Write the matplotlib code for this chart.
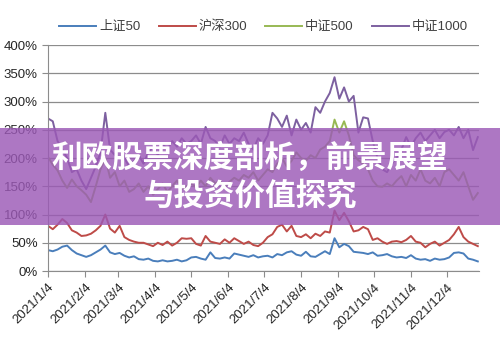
import numpy as np
import pandas as pd
import matplotlib
matplotlib.use("Agg")
import matplotlib.pyplot as plt
import matplotlib.dates as mdates
from matplotlib.patches import Rectangle
from matplotlib.ticker import MultipleLocator, FuncFormatter

plt.rcParams['font.family'] = ['Liberation Sans', 'Noto Sans CJK SC', 'DejaVu Sans']

# sampled every 4 days from 2021/1/4
dates = pd.date_range("2021-01-04", periods=91, freq="4D")

sz50 = [37, 35, 38, 43, 45, 37, 31, 28, 25, 28,
        33, 38, 45, 33, 30, 32, 27, 24, 26, 21,
        20, 22, 18, 17, 19, 17, 18, 20, 17, 19,
        24, 25, 22, 20, 33, 23, 22, 24, 22, 31,
        29, 27, 25, 28, 24, 26, 27, 24, 30, 28,
        33, 35, 29, 27, 34, 26, 25, 30, 35, 30,
        58, 42, 48, 44, 34, 33, 32, 30, 33, 27,
        28, 30, 26, 24, 25, 23, 28, 22, 20, 21,
        18, 22, 20, 21, 24, 32, 33, 31, 22, 20, 17]

hs300 = [80, 74, 82, 92, 85, 72, 68, 62, 63, 66,
         72, 80, 100, 75, 68, 80, 60, 55, 52, 50,
         50, 47, 44, 50, 46, 52, 45, 50, 58, 57,
         58, 48, 45, 62, 52, 50, 48, 56, 50, 58,
         53, 48, 52, 46, 44, 50, 60, 65, 78, 82,
         70, 80, 62, 60, 65, 58, 66, 62, 70, 68,
         107, 90, 103, 88, 70, 72, 78, 74, 55, 58,
         52, 48, 52, 53, 51, 55, 62, 52, 50, 42,
         48, 52, 45, 50, 55, 65, 78, 60, 52, 48, 44]

zz500 = [202, 188, 178, 160, 147, 162, 150, 143, 135, 122,
         150, 180, 200, 165, 175, 150, 160, 140, 145, 155,
         140, 150, 135, 145, 155, 140, 150, 160, 145, 150,
         155, 148, 160, 150, 165, 155, 160, 150, 158, 165,
         160, 170, 165, 175, 160, 170, 180, 175, 190, 200,
         185, 195, 210, 200, 195, 205, 200, 215, 220, 230,
         268, 245, 265, 240, 205, 196, 190, 180, 160, 150,
         149, 155, 150, 160, 168, 150, 170, 160, 180, 160,
         155, 165, 150, 175, 180, 170, 160, 175, 150, 126, 138]

zz1000 = [270, 265, 230, 215, 200, 175, 180, 160, 145, 165,
          185, 210, 280, 215, 205, 225, 200, 185, 195, 205,
          190, 210, 220, 205, 225, 215, 230, 220, 235, 225,
          230, 240, 225, 255, 235, 230, 220, 240, 225, 235,
          230, 245, 225, 215, 235, 225, 240, 280, 270, 255,
          275, 240, 268, 250, 262, 245, 290, 280, 300, 315,
          343, 305, 325, 300, 310, 245, 272, 270, 230, 200,
          180, 175, 190, 200, 215, 237, 220, 235, 245, 230,
          240, 250, 235, 246, 250, 240, 255, 235, 250, 214, 237]

names = ["上证50", "沪深300", "中证500", "中证1000"]
colors = ["#4A7EBB", "#BE4B48", "#98B954", "#7D60A0"]
series = [sz50, hs300, zz500, zz1000]

fig = plt.figure(figsize=(5, 3.55), dpi=100)
ax = fig.add_axes([0.096, 0.2366, 0.862, 0.6366])

for vals, name, c in zip(series, names, colors):
    ax.plot(dates, vals, color=c, lw=1.4, label=name)

ax.set_ylim(0, 400)
ax.yaxis.set_major_locator(MultipleLocator(50))
ax.yaxis.set_major_formatter(FuncFormatter(lambda v, p: f"{v:.0f}%"))
ax.grid(axis='y', color='#8c8c8c', lw=0.9)
ax.set_axisbelow(True)

ax.set_xlim(pd.Timestamp("2021-01-04"), pd.Timestamp("2021-12-31"))
ax.xaxis.set_major_locator(mdates.MonthLocator(bymonthday=4))
ax.xaxis.set_major_formatter(FuncFormatter(
    lambda v, p: "{0.year}/{0.month}/{0.day}".format(mdates.num2date(v))))

for s in ['top', 'right']:
    ax.spines[s].set_visible(False)
for s in ['left', 'bottom']:
    ax.spines[s].set_color('#8c8c8c')
ax.tick_params(axis='both', colors='#8c8c8c', length=4, labelcolor='#262626', labelsize=9.5)
plt.setp(ax.get_xticklabels(), rotation=45, ha='right', rotation_mode='anchor')

ax.legend(loc='lower center', bbox_to_anchor=(0.5, 1.0), ncol=4, frameon=False,
          handlelength=2.8, handletextpad=0.2, columnspacing=1.4,
          prop={'family': ['Liberation Sans', 'Noto Sans CJK SC'], 'size': 9.5},
          labelcolor='#404040')

# overlay banner
fig.add_artist(Rectangle((0, 0.366), 1, 0.273, transform=fig.transFigure,
                         facecolor='#9b59b6', alpha=0.82, edgecolor='none'))
fig.text(0.5, 0.555, "利欧股票深度剖析，前景展望", ha='center', va='center',
         color='white', fontsize=22, fontweight='bold',
         family=['Noto Sans CJK SC', 'DejaVu Sans'])
fig.text(0.5, 0.448, "与投资价值探究", ha='center', va='center',
         color='white', fontsize=22, fontweight='bold',
         family=['Noto Sans CJK SC', 'DejaVu Sans'])

fig.savefig("out.png", dpi=100)
